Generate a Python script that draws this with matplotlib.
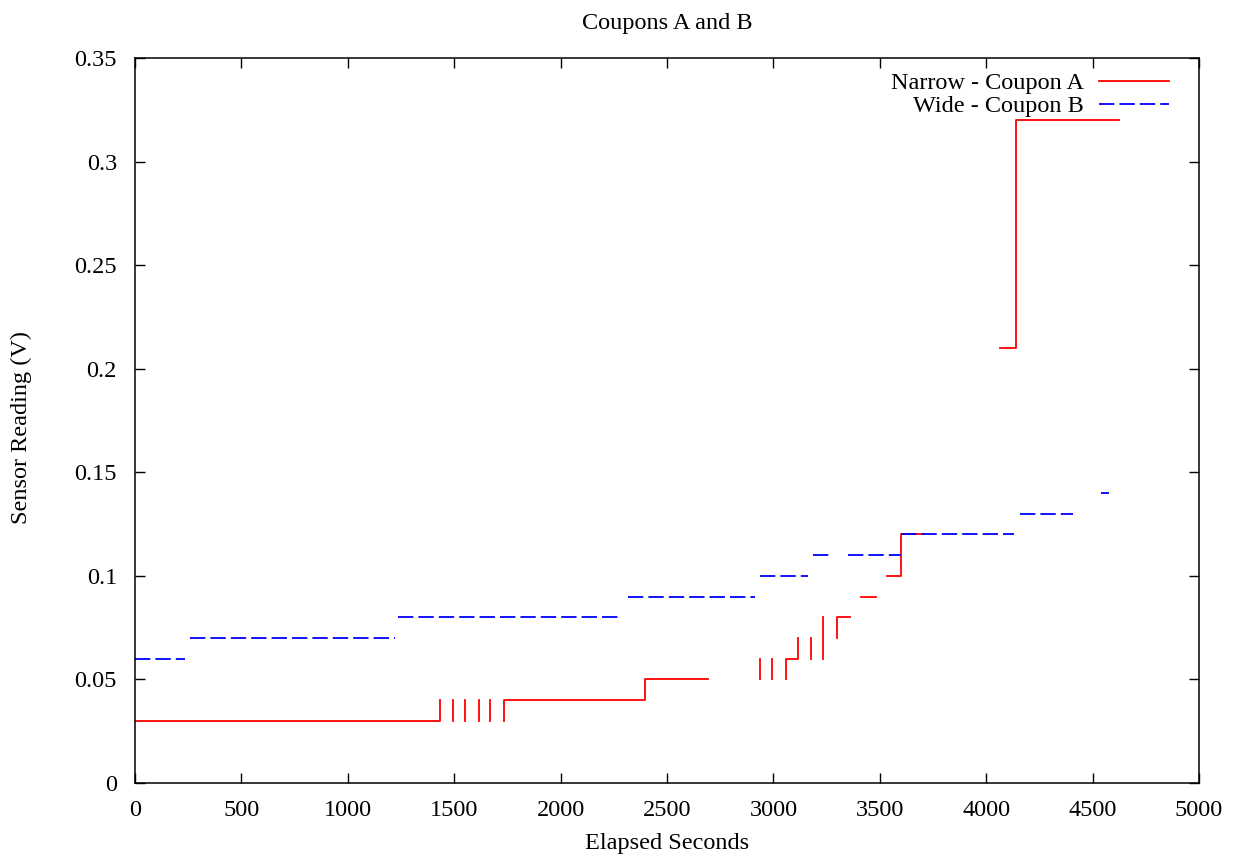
import numpy as np
import matplotlib
matplotlib.use('Agg')
import matplotlib.pyplot as plt
from matplotlib.ticker import FuncFormatter, MultipleLocator

nan = np.nan

# Narrow - Coupon A (drawn as post steps, NaN = gap in data)
red_x = [0, 1433, nan,
         1494, 1494, nan, 1551, 1551, nan, 1617, 1617, nan, 1668, 1668, nan,
         1735, 1735, 2397, 2693, nan,
         2937, 2937, nan, 2993, 2993, nan,
         3057, 3057, 3117, nan,
         3178, 3178, nan, 3235, 3235, nan,
         3300, 3300, 3360, nan,
         3410, 3481, nan,
         3532, 3600, 3710, nan,
         4065, 4139, 4624]
red_y = [0.03, 0.04, nan,
         0.03, 0.04, nan, 0.03, 0.04, nan, 0.03, 0.04, nan, 0.03, 0.04, nan,
         0.03, 0.04, 0.05, 0.05, nan,
         0.05, 0.06, nan, 0.05, 0.06, nan,
         0.05, 0.06, 0.07, nan,
         0.06, 0.07, nan, 0.06, 0.08, nan,
         0.07, 0.08, 0.08, nan,
         0.09, 0.09, nan,
         0.10, 0.12, 0.12, nan,
         0.21, 0.32, 0.32]

# Wide - Coupon B
blue_x = [0, 235, nan, 258, 1222, nan, 1236, 2279, nan, 2317, 2914, nan,
          2937, 3163, nan, 3186, 3266, nan, 3350, 3600, nan, 3600, 4131, nan,
          4159, 4408, nan, 4538, 4577]
blue_y = [0.06, 0.06, nan, 0.07, 0.07, nan, 0.08, 0.08, nan, 0.09, 0.09, nan,
          0.10, 0.10, nan, 0.11, 0.11, nan, 0.11, 0.11, nan, 0.12, 0.12, nan,
          0.13, 0.13, nan, 0.14, 0.14]

plt.rcParams['font.family'] = ['Liberation Serif', 'DejaVu Serif']
fs = 17.5

W, H = 1233, 855
fig = plt.figure(figsize=(W / 100, H / 100), dpi=100)
ax = fig.add_axes([135 / W, (H - 783) / H, (1199 - 135) / W, (783 - 58) / H])

ax.plot(red_x, red_y, color='#ff0000', lw=1.3, drawstyle='steps-post',
        label='Narrow - Coupon A')
ax.plot(blue_x, blue_y, color='#0000ff', lw=1.3, linestyle=(0, (8.5, 2.8)),
        label='Wide - Coupon B')

ax.set_xlim(0, 5000)
ax.set_ylim(0, 0.35)
ax.xaxis.set_major_locator(MultipleLocator(500))
ax.yaxis.set_major_locator(MultipleLocator(0.05))
ax.yaxis.set_major_formatter(FuncFormatter(lambda v, p: '%g' % round(v, 3)))
ax.tick_params(direction='in', top=True, right=True, length=7, width=1,
               labelsize=fs)
ax.tick_params(axis='x', pad=12)
ax.tick_params(axis='y', pad=13)
for s in ax.spines.values():
    s.set_linewidth(1.1)

ax.set_title('Coupons A and B', fontsize=fs, pad=21)
ax.set_xlabel('Elapsed Seconds', fontsize=fs, va='center')
ax.xaxis.set_label_coords(0.5, -(843 - 783) / 725)
ax.set_ylabel('Sensor Reading (V)', fontsize=fs, va='center')
ax.yaxis.set_label_coords((21 - 135) / 1064, 0.49)

ax.legend(loc='upper right', bbox_to_anchor=(0.981, 0.994), frameon=False,
          markerfirst=False, fontsize=fs, handlelength=2.9, handletextpad=0.62,
          labelspacing=0.05, borderaxespad=0)

fig.savefig('out.png', dpi=100)
